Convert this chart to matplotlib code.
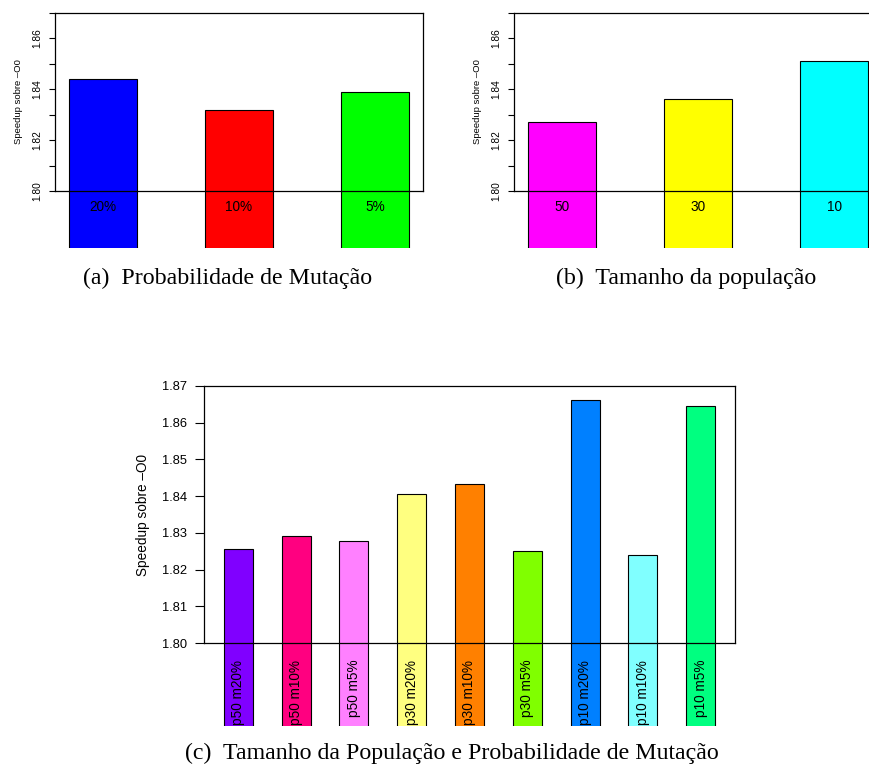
import matplotlib
matplotlib.use("Agg")
import matplotlib.pyplot as plt
from matplotlib.transforms import Bbox, TransformedBbox

plt.rcParams['font.family'] = ['Liberation Sans', 'DejaVu Sans']

# (a) mutation probability
mut_labels = ["20%", "10%", "5%"]
mut_values = [1.844, 1.832, 1.839]
mut_colors = ["#0000FF", "#FF0000", "#00FF00"]

# (b) population size
pop_labels = ["50", "30", "10"]
pop_values = [1.827, 1.836, 1.851]
pop_colors = ["#FF00FF", "#FFFF00", "#00FFFF"]

# (c) combined
comb_labels = ["p50 m20%", "p50 m10%", "p50 m5%", "p30 m20%", "p30 m10%",
               "p30 m5%", "p10 m20%", "p10 m10%", "p10 m5%"]
comb_values = [1.8255, 1.8291, 1.8277, 1.8407, 1.8434,
               1.8251, 1.8661, 1.8241, 1.8646]
comb_colors = ["#8000FF", "#FF0080", "#FF80FF", "#FFFF80", "#FF8000",
               "#80FF00", "#0080FF", "#80FFFF", "#00FF80"]

y_min, y_max = 1.80, 1.87
ylabel = "Speedup sobre \u2013O0"

W, H = 869, 765
fig = plt.figure(figsize=(W / 100, H / 100), dpi=100)


def px_axes(left, top, right, bottom):
    return fig.add_axes([left / W, 1 - bottom / H, (right - left) / W, (bottom - top) / H])


def r_barplot(ax, values, colors, clip_bottom_px, gap):
    # R-style barplot: bars width 1, space 1, drawn past the plot region
    xs = [1.5 + 2 * i for i in range(len(values))]
    bars = ax.bar(xs, values, width=1.0, color=colors, edgecolor="black",
                  linewidth=0.8, zorder=1)
    clip = TransformedBbox(Bbox([[0, 1 - clip_bottom_px / H], [1, 1]]), fig.transFigure)
    for b in bars:
        b.set_clip_box(clip)
    ax.set_xlim(1 - gap, 2 * len(values) + gap)
    ax.set_ylim(y_min, y_max)
    ax.set_xticks([])
    for s in ax.spines.values():
        s.set_linewidth(0.9)
        s.set_zorder(3)
    return xs


# ---- (a) and (b)
small_axes = [
    (px_axes(55, 13, 423, 191), mut_values, mut_colors, mut_labels),
    (px_axes(514, 13, 882, 191), pop_values, pop_colors, pop_labels),
]
for ax, vals, cols, labs in small_axes:
    xs = r_barplot(ax, vals, cols, 248, 0.2)
    ax.set_yticks([1.80, 1.82, 1.84, 1.86])
    ax.set_yticks([1.81, 1.83, 1.85, 1.87], minor=True)
    ax.set_yticklabels(["1.80", "1.82", "1.84", "1.86"])
    ax.tick_params(axis="y", which="both", length=4, width=0.8, direction="out")
    ax.tick_params(axis="y", labelsize=7.3, labelrotation=90, pad=5)
    for lbl in ax.get_yticklabels():
        lbl.set_va("center")
    ax.set_ylabel(ylabel, fontsize=6.8, labelpad=7)
    for x, lab in zip(xs, labs):
        ax.annotate(lab, xy=(x, y_min), xytext=(0, -11.5), textcoords="offset points",
                    ha="center", va="center", fontsize=9.8, zorder=4, annotation_clip=False)

# ---- (c)
axc = px_axes(204, 386, 735, 643)
xs = r_barplot(axc, comb_values, comb_colors, 726, 0.69)
axc.set_yticks([1.80, 1.81, 1.82, 1.83, 1.84, 1.85, 1.86, 1.87])
axc.set_yticklabels(["1.80", "1.81", "1.82", "1.83", "1.84", "1.85", "1.86", "1.87"])
axc.tick_params(axis="y", length=6.5, width=0.8, direction="out", labelsize=9.3, pad=6)
axc.set_ylabel(ylabel, fontsize=9.8, labelpad=8)
for x, lab in zip(xs, comb_labels):
    axc.annotate(lab, xy=(x, y_min), xytext=(0, -12), textcoords="offset points",
                 ha="center", va="top", rotation=90, fontsize=9.8, zorder=4,
                 annotation_clip=False)

# captions
cap_font = dict(family="Liberation Serif", fontsize=17.2, ha="center", va="center")
fig.text(228 / W, 1 - 278 / H, "(a)  Probabilidade de Mutação", **cap_font)
fig.text(686 / W, 1 - 278 / H, "(b)  Tamanho da população", **cap_font)
fig.text(452 / W, 1 - 753 / H, "(c)  Tamanho da População e Probabilidade de Mutação", **cap_font)

fig.savefig("out.png", dpi=100)
plt.close(fig)
